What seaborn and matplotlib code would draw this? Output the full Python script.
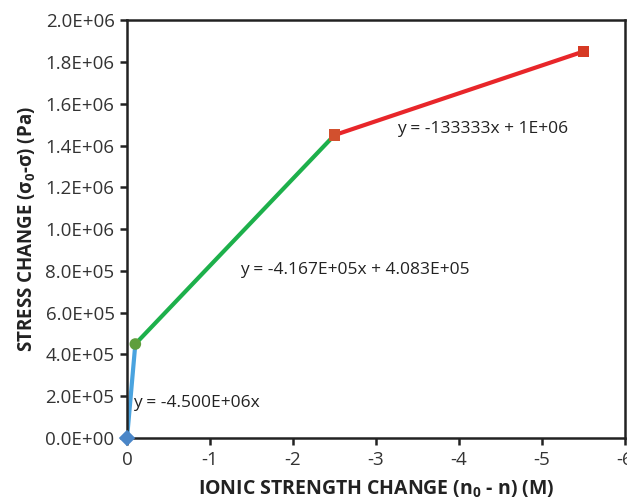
import matplotlib
matplotlib.use("Agg")
import matplotlib.pyplot as plt
import seaborn as sns
import pandas as pd
from matplotlib.ticker import FuncFormatter, MultipleLocator

# ---- data ----
seg_names = ["blue", "green", "red"]
seg_x = [[0.0, -0.1], [-0.1, -2.5], [-2.5, -5.5]]
seg_y = [[0.0, 4.5e5], [4.5e5, 1.45e6], [1.45e6, 1.85e6]]
pt_x = [0.0, -0.1, -2.5, -5.5]
pt_y = [0.0, 4.5e5, 1.45e6, 1.85e6]
pt_kind = ["p0", "p1", "p2", "p3"]
eq_texts = ["y = -4.500E+06x", "y = -4.167E+05x + 4.083E+05", "y = -133333x + 1E+06"]
eq_x = [-0.07, -1.36, -3.25]
eq_y = [1.67e5, 8.05e5, 1.48e6]
x_ticks = [0, -1, -2, -3, -4, -5, -6]
x_tick_labels = ["0", "-1", "-2", "-3", "-4", "-5", "-6"]

sns.set_theme(style="white")
plt.rcParams["font.family"] = ["Open Sans", "DejaVu Sans"]
plt.rcParams["axes.unicode_minus"] = False
plt.rcParams["mathtext.fontset"] = "custom"
plt.rcParams["mathtext.rm"] = "Open Sans"
plt.rcParams["mathtext.bf"] = "Open Sans:bold"

rows = []
for name, xs, ys in zip(seg_names, seg_x, seg_y):
    for xv, yv in zip(xs, ys):
        rows.append({"seg": name, "x": xv, "y": yv})
df_lines = pd.DataFrame(rows)
df_pts = pd.DataFrame({"x": pt_x, "y": pt_y, "kind": pt_kind})

fig = plt.figure(figsize=(6.27, 5.01), dpi=100)
ax = fig.add_axes([0.2026, 0.1257, 0.794, 0.834])

line_pal = {"blue": "#4aa3df", "green": "#1db04b", "red": "#e8262a"}
sns.lineplot(data=df_lines, x="x", y="y", hue="seg", palette=line_pal,
             units="seg", estimator=None, sort=False, linewidth=3.0,
             legend=False, ax=ax)

pt_pal = {"p0": "#4a86c8", "p1": "#5f9e3c", "p2": "#d2502e", "p3": "#d63a24"}
pt_mark = {"p0": "D", "p1": "o", "p2": "s", "p3": "s"}
sns.scatterplot(data=df_pts, x="x", y="y", hue="kind", style="kind",
                palette=pt_pal, markers=pt_mark, s=70, edgecolor="none",
                legend=False, ax=ax, zorder=5, clip_on=False)

for t, xv, yv in zip(eq_texts, eq_x, eq_y):
    ax.text(xv, yv, t, fontsize=12.5, color="#222222", va="center", ha="left")

ax.set_xlim(0, -6)
ax.set_ylim(0, 2.0e6)
ax.set_xticks(x_ticks)
ax.set_xticklabels(x_tick_labels)
ax.yaxis.set_major_locator(MultipleLocator(2.0e5))
ax.yaxis.set_major_formatter(FuncFormatter(lambda v, p: f"{v:.1E}"))

for s in ax.spines.values():
    s.set_visible(True)
    s.set_color("#222222")
    s.set_linewidth(1.8)

ax.tick_params(axis="both", which="major", direction="out", length=5, width=1.8,
               color="#222222", labelsize=13.5, labelcolor="#333333",
               bottom=True, left=True, pad=4)

ax.set_xlabel(r"IONIC STRENGTH CHANGE (n$_\mathbf{0}$ - n) (M)", fontsize=14,
              fontweight="bold", color="#222222", labelpad=7)
ax.set_ylabel(r"STRESS CHANGE (σ$_\mathbf{0}$-σ) (Pa)", fontsize=13.5,
              fontweight="bold", color="#222222", labelpad=5)

fig.savefig("out.png", dpi=100, facecolor="white")
